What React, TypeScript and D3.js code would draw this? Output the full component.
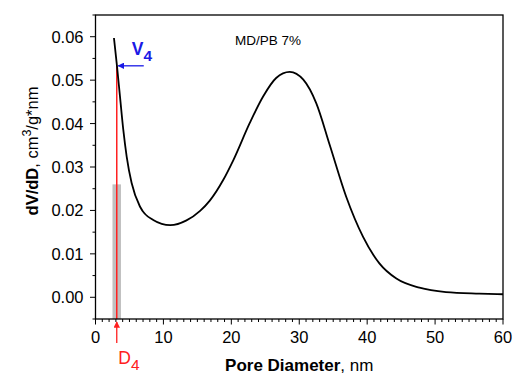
import React from 'react';
import * as d3 from 'd3';

// pore size distribution, MD/PB 7%
const diameter = [2.72, 3.16, 3.6, 4.09, 4.59, 5.32, 6.54, 8.5, 11.0, 13.4, 15.4, 16.8, 18.8, 20.3, 22.7, 24.7, 26.6, 28.6, 30.6, 32.5, 34.5, 36.9, 39.4, 41.8, 44.3, 47.7, 51.6, 56.5, 60];
const dvdd = [0.0597, 0.0533, 0.0463, 0.0386, 0.0324, 0.0263, 0.0209, 0.0178, 0.0166, 0.0177, 0.0199, 0.0222, 0.027, 0.0316, 0.0401, 0.0463, 0.0505, 0.0519, 0.0501, 0.0447, 0.035, 0.0232, 0.0139, 0.0078, 0.0043, 0.0022, 0.0012, 0.00085, 0.0007];

// D4 / V4 marker and the grey band around it
const d4 = 3.13;
const v4 = 0.0533;
const band = [2.5, 3.75];
const bandTop = 0.026;

const xTicks = [0, 10, 20, 30, 40, 50, 60];
const yTicks = [0, 0.01, 0.02, 0.03, 0.04, 0.05, 0.06];

const width = 515, height = 376;
const left = 95.5, right = 503, top = 15, bottom = 319;
const font = 'Liberation Sans, Arial, sans-serif';

export default function App() {
  const x = d3.scaleLinear().domain([0, 60]).range([left, right]);
  const y = d3.scaleLinear().domain([-0.005, 0.065]).range([bottom, top]);

  const pts: [number, number][] = diameter.map((d, i) => [d, dvdd[i]]);
  const line = d3.line<[number, number]>()
    .x(d => x(d[0]))
    .y(d => y(d[1]))
    .curve(d3.curveMonotoneX);

  const xMinor = d3.range(0, 61, 1);
  const yMinor = d3.range(-0.005, 0.0651, 0.005);

  return (
    <svg width={width} height={height} style={{ position: 'absolute', left: 0, top: 0, background: '#fff' }}
      fontFamily={font}>
      <defs>
        <marker id="ab" viewBox="0 0 10 10" refX="9" refY="5" markerWidth="5" markerHeight="5" orient="auto">
          <path d="M0,0 L10,5 L0,10 z" fill="#1a1ae6" />
        </marker>
        <marker id="ar" viewBox="0 0 10 10" refX="9" refY="5" markerWidth="5" markerHeight="5" orient="auto">
          <path d="M0,0 L10,5 L0,10 z" fill="#ff2020" />
        </marker>
      </defs>

      {/* grey band + red D4 line */}
      <rect x={x(band[0])} y={y(bandTop)} width={x(band[1]) - x(band[0])} height={bottom - y(bandTop)} fill="#c0c0c0" />
      <line x1={x(d4)} x2={x(d4)} y1={y(v4)} y2={bottom} stroke="#ff2020" strokeWidth={1.5} />

      <path d={line(pts) || ''} fill="none" stroke="#000" strokeWidth={1.8} />

      {/* frame */}
      <rect x={left} y={top} width={right - left} height={bottom - top} fill="none" stroke="#000" strokeWidth={1.3} />

      {/* x ticks */}
      {xMinor.map(v => (
        <line key={'xm' + v} x1={x(v)} x2={x(v)} y1={bottom} y2={bottom + (v % 10 === 0 ? 5.5 : 3)} stroke="#000" strokeWidth={1} />
      ))}
      {xTicks.map(v => (
        <text key={'xt' + v} x={x(v)} y={bottom + 24} textAnchor="middle" fontSize={16.5}>{v}</text>
      ))}

      {/* y ticks */}
      {yMinor.map((v, i) => (
        <line key={'ym' + i} x1={left} x2={left - (i % 2 === 1 ? 5.5 : 3)} y1={y(v)} y2={y(v)} stroke="#000" strokeWidth={1} />
      ))}
      {yTicks.map(v => (
        <text key={'yt' + v} x={left - 12} y={y(v)} dy="0.36em" textAnchor="end" fontSize={16.5}>{d3.format('.2f')(v)}</text>
      ))}

      {/* titles */}
      <text x={(left + right) / 2} y={371} textAnchor="middle" fontSize={17}>
        <tspan fontWeight="bold">Pore Diameter</tspan>, nm
      </text>
      <text transform={`translate(38,151) rotate(-90)`} textAnchor="middle" fontSize={16.5}>
        <tspan fontWeight="bold">dV/dD</tspan>, cm<tspan fontSize={12.5} dy={-7}>3</tspan><tspan dy={7}>/g*nm</tspan>
      </text>

      <text x={235} y={45} fontSize={13.5}>MD/PB 7%</text>

      {/* V4 annotation */}
      <line x1={x(d4) + 27} x2={x(d4) + 1.5} y1={y(v4)} y2={y(v4)} stroke="#1a1ae6" strokeWidth={1.3} markerEnd="url(#ab)" />
      <text x={x(d4) + 15} y={55} fill="#1a1ae6" fontWeight="bold" fontSize={17.5}>
        V<tspan fontSize={15.5} dy={6}>4</tspan>
      </text>

      {/* D4 annotation */}
      <line x1={x(d4)} x2={x(d4)} y1={bottom + 24} y2={bottom + 3} stroke="#ff2020" strokeWidth={1.3} markerEnd="url(#ar)" />
      <text x={x(d4) + 1.5} y={364} fill="#ff2020" fontSize={17.5}>
        D<tspan fontSize={15.5} dy={6}>4</tspan>
      </text>
    </svg>
  );
}
